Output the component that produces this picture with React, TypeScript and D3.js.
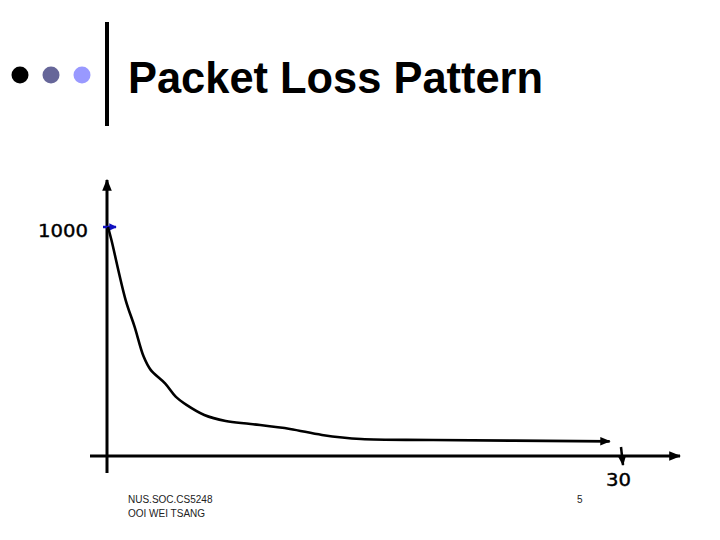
import React from "react";
import * as d3 from "d3";

const xValues = [0, 0.2, 1.03, 1.55, 2.08, 2.49, 3.33, 3.95, 4.58, 5.62, 6.87, 8.33, 10.62, 12.49, 14.77, 18.97, 29.28];
const lossValues = [1000, 943, 681, 565, 434, 376, 317, 259, 223, 179, 153, 140, 118, 92, 74, 70, 64];
const xTickLabels = ["30"];
const xTickValues = [30];
const yTickLabels = ["1000"];
const yTickValues = [1000];
const titleText = "Packet Loss Pattern";
const footerLines = ["NUS.SOC.CS5248", "OOI WEI TSANG"];
const pageNumber = "5";

export default function App() {
  const W = 720, H = 540;
  const x = d3.scaleLinear().domain([0, 30]).range([108, 622]);
  const y = d3.scaleLinear().domain([0, 1000]).range([456, 227]);
  const pts: [number, number][] = xValues.map((v, i) => [v, lossValues[i]]);
  const line = d3.line<[number, number]>()
    .x((d) => x(d[0]))
    .y((d) => y(d[1]))
    .curve(d3.curveCatmullRom.alpha(0.5));
  const font = "'DejaVu Sans', Verdana, sans-serif";

  return (
    <svg width={W} height={H} style={{ position: "absolute", left: 0, top: 0, background: "#fff" }}>
      <defs>
        <marker id="arr" viewBox="0 0 10 10" refX="9" refY="5" markerWidth="4" markerHeight="4" orient="auto" markerUnits="strokeWidth">
          <path d="M0,1 L10,5 L0,9 Z" fill="#000" />
        </marker>
        <marker id="arrSmall" viewBox="0 0 10 10" refX="9" refY="5" markerWidth="4" markerHeight="4" orient="auto" markerUnits="strokeWidth">
          <path d="M0,1 L10,5 L0,9 Z" fill="#000" />
        </marker>
        <marker id="arrBlue" viewBox="0 0 10 10" refX="9" refY="5" markerWidth="3" markerHeight="3" orient="auto" markerUnits="strokeWidth">
          <path d="M0,0 L10,5 L0,10 Z" fill="#1010c0" />
        </marker>
      </defs>

      {/* header */}
      <circle cx={20} cy={75} r={8.5} fill="#000" />
      <circle cx={51} cy={75} r={8.5} fill="#666699" />
      <circle cx={82} cy={75} r={8.5} fill="#9999ff" />
      <rect x={105} y={22} width={4} height={104} fill="#000" />
      <text x={128} y={93} fontFamily="'Liberation Sans', Arial, sans-serif" fontWeight="bold" fontSize={45}
        textLength={415} lengthAdjust="spacingAndGlyphs" fill="#000">{titleText}</text>

      {/* axes */}
      <line x1={107} y1={473} x2={107} y2={180} stroke="#000" strokeWidth={3} markerEnd="url(#arr)" />
      <line x1={90} y1={456} x2={680} y2={456} stroke="#000" strokeWidth={3} markerEnd="url(#arr)" />

      {/* y tick */}
      {yTickValues.map((v, i) => (
        <g key={"y" + i}>
          <line x1={103} y1={y(v)} x2={116} y2={y(v)} stroke="#1010c0" strokeWidth={2.5} markerEnd="url(#arrBlue)" />
          <text x={38} y={y(v) + 10} fontFamily={font} fontSize={18} textLength={50}
            lengthAdjust="spacingAndGlyphs" stroke="#000" strokeWidth={0.4} fill="#000">{yTickLabels[i]}</text>
        </g>
      ))}

      {/* x tick */}
      {xTickValues.map((v, i) => (
        <g key={"x" + i}>
          <line x1={x(v) - 1} y1={447} x2={x(v) + 1} y2={465} stroke="#000" strokeWidth={2.5} markerEnd="url(#arrSmall)" />
          <text x={606} y={486} fontFamily={font} fontSize={18} textLength={25}
            lengthAdjust="spacingAndGlyphs" stroke="#000" strokeWidth={0.4} fill="#000">{xTickLabels[i]}</text>
        </g>
      ))}

      {/* curve */}
      <path d={line(pts) || ""} fill="none" stroke="#000" strokeWidth={2.6} strokeLinejoin="round" markerEnd="url(#arr)" />

      {/* footer */}
      {footerLines.map((t, i) => (
        <text key={t} x={128} y={503 + i * 14} fontFamily="'Liberation Sans', Arial, sans-serif" fontSize={10} fill="#222">{t}</text>
      ))}
      <text x={577} y={503} fontFamily="'Liberation Sans', Arial, sans-serif" fontSize={10} fill="#222">{pageNumber}</text>
    </svg>
  );
}
